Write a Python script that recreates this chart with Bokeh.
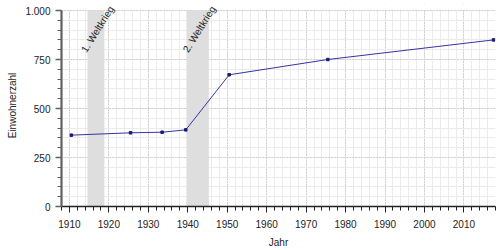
from bokeh.plotting import figure
from bokeh.models import FixedTicker, BoxAnnotation, Label, Range1d
from bokeh.embed import file_html
from bokeh.resources import INLINE

years = [1910, 1925, 1933, 1939, 1950, 1975, 2017]
population = [364, 376, 379, 391, 672, 750, 850]
y_ticks = [0, 250, 500, 750, 1000]
y_tick_labels = ["0", "250", "500", "750", "1.000"]
x_ticks = list(range(1910, 2011, 10))
wars = ["1. Weltkrieg", "2. Weltkrieg"]
war_start = [1914.58, 1939.67]
war_end = [1918.87, 1945.35]

FONT = "Liberation Sans"
Y_MAX = 1000
# frame extends 6px above the 1.000 line so the rotated labels are not clipped
Y_TOP = Y_MAX * 202 / 196

p = figure(width=500, height=250, output_backend="svg", toolbar_location=None,
           x_range=Range1d(1908, 2018), y_range=Range1d(0, Y_TOP),
           min_border_left=61, min_border_right=5, min_border_top=4, min_border_bottom=44)
p.outline_line_color = None
p.background_fill_color = "white"

# white strip above the 1.000 line, covering grid lines there
p.add_layout(BoxAnnotation(bottom=Y_MAX * 196.8 / 196, fill_color="white", fill_alpha=1.0,
                           line_color=None, level="underlay"))

# war bands
for s, e, name in zip(war_start, war_end, wars):
    p.add_layout(BoxAnnotation(left=s, right=e, bottom=0, top=Y_MAX, fill_color="#dedede",
                               fill_alpha=1.0, line_color=None, level="underlay"))
    p.add_layout(Label(x=(s + e) / 2 + 0.4, y=905, text=name, angle=58, angle_units="deg",
                       text_align="center", text_baseline="middle",
                       text_font=FONT, text_font_size="10px", text_color="#222222"))

xs = [y + 0.5 for y in years]
p.line(xs, population, line_color="#3434a4", line_width=1)
p.scatter(xs, population, size=2.5, marker="square", color="#1a1a70")

# axes
p.xaxis.ticker = FixedTicker(ticks=x_ticks, minor_ticks=list(range(1908, 2019, 2)))
p.yaxis.ticker = FixedTicker(ticks=y_ticks, minor_ticks=list(range(0, 1001, 50)))
p.yaxis.major_label_overrides = {t: l for t, l in zip(y_ticks, y_tick_labels)}
p.yaxis.bounds = (0, Y_MAX)

for ax in (p.xaxis[0], p.yaxis[0]):
    ax.major_label_text_font = FONT
    ax.major_label_text_font_size = "10px"
    ax.major_label_text_color = "#222222"
    ax.axis_label_text_font = FONT
    ax.axis_label_text_font_size = "10px"
    ax.axis_label_text_font_style = "normal"
    ax.axis_label_text_color = "#222222"
    ax.major_tick_in = 0
    ax.major_tick_out = 6
    ax.minor_tick_in = 0
    ax.minor_tick_out = 4

p.xaxis.axis_label = "Jahr"
p.yaxis.axis_label = "Einwohnerzahl"
p.xaxis.axis_line_color = "#222222"
p.xaxis.axis_line_width = 1.3
p.xaxis.major_tick_line_color = "#222222"
p.xaxis.minor_tick_line_color = "#222222"
p.xaxis.major_label_standoff = 7
p.xaxis.axis_label_standoff = 6
p.yaxis.axis_line_color = "#606060"
p.yaxis.axis_line_width = 2.2
p.yaxis.major_tick_line_color = "#606060"
p.yaxis.minor_tick_line_color = "#606060"
p.yaxis.major_tick_line_width = 1.5
p.yaxis.major_label_standoff = 5
p.yaxis.axis_label_standoff = 4

for g in (p.xgrid[0], p.ygrid[0]):
    g.grid_line_color = "#b8b8b8"
    g.grid_line_dash = "1 2"
    g.grid_line_width = 1
    g.minor_grid_line_color = "#ebebeb"
    g.minor_grid_line_width = 1

open("out.html", "w").write(file_html(p, INLINE))
